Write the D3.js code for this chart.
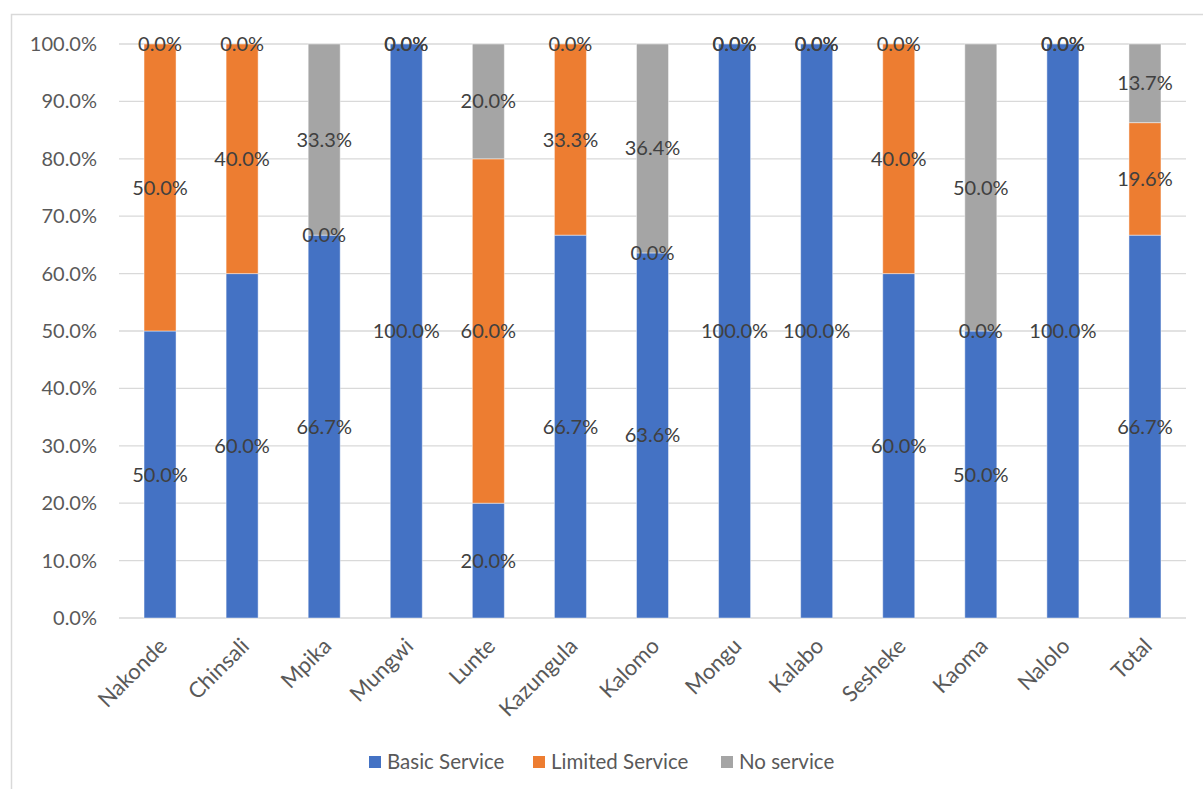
<!DOCTYPE html>
<html>
<head>
<meta charset="utf-8">
<script src="https://cdn.jsdelivr.net/npm/d3@7"></script>
<style>
  body { margin: 0; background: #fff; }
  svg text { font-family: Lato, "Open Sans", sans-serif; }
</style>
</head>
<body>
<svg id="chart" width="1203" height="789"></svg>
<script>
var districts = ['Nakonde','Chinsali','Mpika','Mungwi','Lunte','Kazungula','Kalomo','Mongu','Kalabo','Sesheke','Kaoma','Nalolo','Total'];
var seriesNames = ['Basic Service','Limited Service','No service'];
var basicService = [50.0, 60.0, 66.7, 100.0, 20.0, 66.7, 63.6, 100.0, 100.0, 60.0, 50.0, 100.0, 66.7];
var limitedService = [50.0, 40.0, 0.0, 0.0, 60.0, 33.3, 0.0, 0.0, 0.0, 40.0, 0.0, 0.0, 19.6];
var noService = [0.0, 0.0, 33.3, 0.0, 20.0, 0.0, 36.4, 0.0, 0.0, 0.0, 50.0, 0.0, 13.7];
var yTicks = [0,10,20,30,40,50,60,70,80,90,100];
var colors = ['#4472C4','#ED7D31','#A5A5A5'];

var rows = districts.map(function(d,i){
	return {district:d, 'Basic Service':basicService[i], 'Limited Service':limitedService[i], 'No service':noService[i]};
});

var svg = d3.select('#chart');
var margin = {top:44, right:17, bottom:171, left:119};
var width = 1203-margin.left-margin.right,
	height = 789-margin.top-margin.bottom;

// outer chart frame
svg.append('rect')
	.attr('x',11.5).attr('y',14.5)
	.attr('width',1200).attr('height',800)
	.attr('fill','none').attr('stroke','#d9d9d9').attr('stroke-width',1.5);

var g = svg.append('g').attr('transform','translate('+margin.left+','+margin.top+')');

var x = d3.scaleBand().domain(districts).range([0,width]).paddingInner(0.61).paddingOuter(0.305);
var y = d3.scaleLinear().domain([0,100]).range([height,0]);

// gridlines
g.selectAll('.grid').data(yTicks).join('line')
	.attr('class','grid')
	.attr('x1',0).attr('x2',width)
	.attr('y1',d=>y(d)).attr('y2',d=>y(d))
	.attr('stroke','#d9d9d9').attr('stroke-width',1.3);

// y axis labels
g.selectAll('.ytick').data(yTicks).join('text')
	.attr('class','ytick')
	.attr('x',-22).attr('y',d=>y(d))
	.attr('dy','0.35em')
	.attr('text-anchor','end')
	.attr('fill','#595959')
	.style('font-size','20px')
	.text(d=>d.toFixed(1)+'%');

var stacked = d3.stack().keys(seriesNames)(rows);

var layers = g.selectAll('.layer').data(stacked).join('g')
	.attr('class','layer')
	.attr('fill',(d,i)=>colors[i]);

layers.selectAll('rect').data(d=>d).join('rect')
	.attr('x',d=>x(d.data.district))
	.attr('width',x.bandwidth())
	.attr('y',d=>y(d[1]))
	.attr('height',d=>y(d[0])-y(d[1]))
	.attr('stroke','#ffffff').attr('stroke-opacity',0.45).attr('stroke-width',1);

// data labels
var labels = g.append('g');
stacked.forEach(function(layer){
	labels.selectAll(null).data(layer).join('text')
		.attr('x',d=>x(d.data.district)+x.bandwidth()/2)
		.attr('y',d=>y((d[0]+d[1])/2))
		.attr('dy','0.35em')
		.attr('text-anchor','middle')
		.attr('fill','#404040')
		.style('font-size','20px')
		.text(d=>(d[1]-d[0]).toFixed(1)+'%');
});

// category labels
g.selectAll('.xtick').data(districts).join('text')
	.attr('class','xtick')
	.attr('transform',d=>'translate('+(x(d)+x.bandwidth()/2+3)+','+(height+24)+') rotate(-45)')
	.attr('text-anchor','end')
	.attr('dy','0.35em')
	.attr('fill','#595959')
	.style('font-size','22px')
	.text(d=>d);

// legend
var legendX = [369,533,721];
var legend = svg.append('g').selectAll('g').data(seriesNames).join('g')
	.attr('transform',(d,i)=>'translate('+legendX[i]+',756)');
legend.append('rect').attr('width',12).attr('height',12).attr('fill',(d,i)=>colors[i]);
legend.append('text')
	.attr('x',18).attr('y',6).attr('dy','0.35em')
	.attr('fill','#595959')
	.style('font-size','20.5px')
	.text(d=>d);
</script>
</body>
</html>
